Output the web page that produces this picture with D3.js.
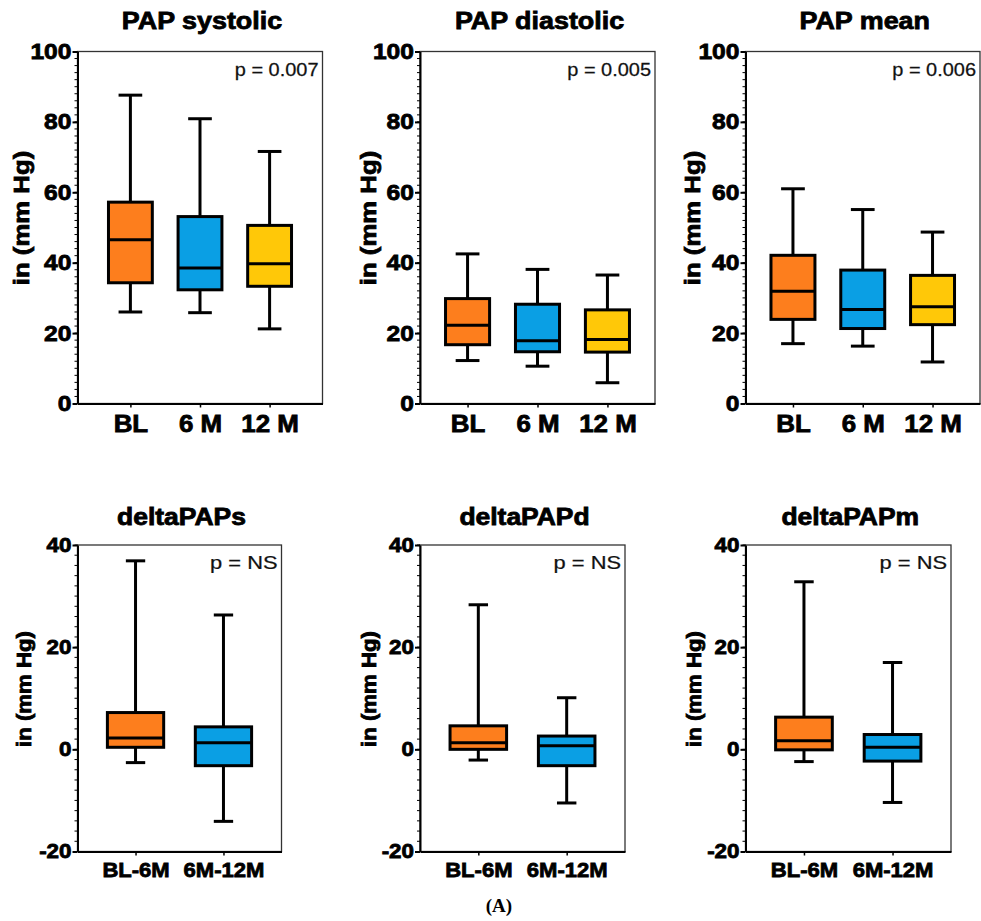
<!DOCTYPE html>
<html>
<head>
<meta charset="utf-8">
<script src="https://cdn.jsdelivr.net/npm/d3@7"></script>
<style>
  body { margin: 0; background: #fff; }
  svg text { font-family: "Liberation Sans", Arial, Helvetica, sans-serif; fill: #000; }
  svg text.heavy { stroke: #000; stroke-width: 0.8px; }
  svg text.light { stroke: #111; stroke-width: 0.25px; }
</style>
</head>
<body>
<div id="chart"></div>
<script>
var groupsTop = ["BL", "6 M", "12 M"];
var groupsDelta = ["BL-6M", "6M-12M"];
var fillsTop = ["#fd7e1d", "#0a9fe4", "#ffc808"];
var fillsDelta = ["#fd7e1d", "#0a9fe4"];

var titlesTop = ["PAP systolic", "PAP diastolic", "PAP mean"];
var titlesDelta = ["deltaPAPs", "deltaPAPd", "deltaPAPm"];
var pTop = ["p = 0.007", "p = 0.005", "p = 0.006"];
var pDelta = ["p = NS", "p = NS", "p = NS"];

var ticksTop = [0, 20, 40, 60, 80, 100];
var ticksDelta = [-20, 0, 20, 40];

// each box: [min, q1, median, q3, max]
var papSystolic = [[26.0, 34.3, 46.5, 57.2, 87.6], [25.8, 32.3, 38.5, 53.1, 80.9], [21.2, 33.3, 39.7, 50.6, 71.6]];
var papDiastolic = [[12.2, 16.7, 22.2, 29.8, 42.5], [10.6, 14.7, 17.8, 28.2, 38.1], [5.9, 14.6, 18.2, 26.6, 36.5]];
var papMean = [[17.0, 23.9, 31.9, 42.1, 61.0], [16.3, 21.3, 26.7, 37.9, 55.1], [11.8, 22.4, 27.5, 36.4, 48.7]];
var deltaPAPs = [[-2.6, 0.4, 2.2, 7.2, 36.9], [-14.1, -3.2, 1.3, 4.4, 26.3]];
var deltaPAPd = [[-2.1, 0.0, 1.3, 4.6, 28.3], [-10.5, -3.2, 0.7, 2.6, 10.1]];
var deltaPAPm = [[-2.4, -0.1, 1.7, 6.3, 32.8], [-10.4, -2.3, 0.4, 2.9, 17.0]];

(function () {

    var width = 981, height = 921;

    var svg = d3.select("#chart").append("svg")
        .attr("width", width)
        .attr("height", height);

    var rows = [
        {
            groups: groupsTop, fills: fillsTop, titles: titlesTop, ps: pTop,
            series: [papSystolic, papDiastolic, papMean],
            domain: [0, 100], ticks: ticksTop,
            top: 51.5, bottom: 403.5,
            lefts: [77.5, 420, 745.5], rights: [322.5, 655, 980],
            paddings: [0.76, 0.68, 0.68], boxFrac: 0.63, capFrac: 0.34,
            titleY: 28.5, titleSize: 24, titleStretch: 1.12,
            tickSize: 22, tickStretch: 1.12,
            labelSize: 23, labelStretch: 1.12, labelOffsets: [49, 44.5, 45.5], labelY: 218,
            catSize: 24, catStretch: 1.08, catPad: 7,
            pSize: 19, pStretch: 1.05, pY: 76
        },
        {
            groups: groupsDelta, fills: fillsDelta, titles: titlesDelta, ps: pDelta,
            series: [deltaPAPs, deltaPAPd, deltaPAPm],
            domain: [-20, 40], ticks: ticksDelta,
            top: 545, bottom: 851.5,
            lefts: [77.5, 420, 745.5], rights: [281.5, 625, 951],
            paddings: [0.66, 0.66, 0.66], boxFrac: 0.64, capFrac: 0.22,
            titleY: 525, titleSize: 23, titleStretch: 1.15,
            tickSize: 20, tickStretch: 1.12,
            labelSize: 20, labelStretch: 1.11, labelOffsets: [46.5, 44, 44.5], labelY: 689,
            catSize: 21, catStretch: 1.05, catPad: 6.6,
            pSize: 19, pStretch: 1.15, pY: 569
        }
    ];

    // text that is a bit wider than plain Arial, as in the picture
    var stretchText = function (sel, s) {
        sel.each(function () {
            var t = d3.select(this);
            var x = +t.attr("x") || 0, y = +t.attr("y") || 0;
            t.attr("x", 0).attr("y", 0)
                .attr("transform", "translate(" + x + "," + y + ") scale(" + s + ",1)");
        });
    };

    rows.forEach(function (row) {
        row.series.forEach(function (data, k) {
            var left = row.lefts[k], right = row.rights[k];

            var y = d3.scaleLinear().domain(row.domain).range([row.bottom, row.top]);
            var x = d3.scalePoint().domain(row.groups).range([left, right]).padding(row.paddings[k]);
            var step = x.step();
            var boxW = step * row.boxFrac, capW = step * row.capFrac;

            var g = svg.append("g");

            // frame (top and right edges)
            g.append("rect")
                .attr("x", left).attr("y", row.top)
                .attr("width", right - left).attr("height", row.bottom - row.top)
                .attr("fill", "none").attr("stroke", "#333").attr("stroke-width", 1.3);

            // minor ticks
            g.selectAll(".minor")
                .data(d3.range(row.domain[0], row.domain[1] + 0.01, 2))
                .enter().append("line")
                .attr("x1", left - 3).attr("x2", left)
                .attr("y1", d => y(d)).attr("y2", d => y(d))
                .attr("stroke", "#000").attr("stroke-width", 1);

            var yAxis = g.append("g")
                .attr("transform", "translate(" + left + ",0)")
                .call(d3.axisLeft(y).tickValues(row.ticks).tickFormat(d => String(d))
                    .tickSize(5).tickPadding(1).tickSizeOuter(0));
            yAxis.select(".domain").attr("stroke", "#000").attr("stroke-width", 2);
            yAxis.selectAll(".tick line").attr("stroke", "#000").attr("stroke-width", 2);
            yAxis.selectAll("text")
                .attr("class", "heavy")
                .attr("font-size", row.tickSize).attr("font-weight", "bold")
                .call(stretchText, row.tickStretch);

            var xAxis = g.append("g")
                .attr("transform", "translate(0," + row.bottom + ")")
                .call(d3.axisBottom(x).tickSize(4).tickPadding(row.catPad).tickSizeOuter(0));
            xAxis.select(".domain").attr("stroke", "#000").attr("stroke-width", 2);
            xAxis.selectAll(".tick line").attr("stroke", "#000").attr("stroke-width", 1.5);
            xAxis.selectAll("text")
                .attr("class", "heavy")
                .attr("font-size", row.catSize).attr("font-weight", "bold");
            xAxis.selectAll("text").each(function () {
                var t = d3.select(this);
                var yy = +t.attr("y");
                var dy = parseFloat(t.attr("dy")) * row.catSize;
                t.attr("dy", null).attr("y", yy + dy);
            });
            xAxis.selectAll("text").call(stretchText, row.catStretch);

            // boxes
            var boxes = g.selectAll(".box")
                .data(data)
                .enter().append("g")
                .attr("class", "box");

            boxes.append("line")
                .attr("x1", (d, i) => x(row.groups[i])).attr("x2", (d, i) => x(row.groups[i]))
                .attr("y1", d => y(d[0])).attr("y2", d => y(d[4]))
                .attr("stroke", "#000").attr("stroke-width", 3);

            [0, 4].forEach(function (j) {
                boxes.append("line")
                    .attr("x1", (d, i) => x(row.groups[i]) - capW / 2)
                    .attr("x2", (d, i) => x(row.groups[i]) + capW / 2)
                    .attr("y1", d => y(d[j])).attr("y2", d => y(d[j]))
                    .attr("stroke", "#000").attr("stroke-width", 3);
            });

            boxes.append("rect")
                .attr("x", (d, i) => x(row.groups[i]) - boxW / 2)
                .attr("width", boxW)
                .attr("y", d => y(d[3]))
                .attr("height", d => y(d[1]) - y(d[3]))
                .attr("fill", (d, i) => row.fills[i])
                .attr("stroke", "#000").attr("stroke-width", 3);

            boxes.append("line")
                .attr("x1", (d, i) => x(row.groups[i]) - boxW / 2)
                .attr("x2", (d, i) => x(row.groups[i]) + boxW / 2)
                .attr("y1", d => y(d[2])).attr("y2", d => y(d[2]))
                .attr("stroke", "#000").attr("stroke-width", 3);

            // title
            g.append("text")
                .attr("class", "heavy")
                .attr("x", (left + right) / 2 + 2).attr("y", row.titleY)
                .attr("text-anchor", "middle")
                .attr("font-size", row.titleSize).attr("font-weight", "bold")
                .text(row.titles[k])
                .call(stretchText, row.titleStretch);

            // y label
            g.append("text")
                .attr("class", "heavy")
                .attr("transform", "translate(" + (left - row.labelOffsets[k]) + "," + row.labelY + ") rotate(-90) scale(" + row.labelStretch + ",1)")
                .attr("text-anchor", "middle")
                .attr("font-size", row.labelSize).attr("font-weight", "bold")
                .text("in (mm Hg)");

            // p value
            g.append("text")
                .attr("class", "light")
                .attr("x", right - 4).attr("y", row.pY)
                .attr("text-anchor", "end")
                .attr("font-size", row.pSize)
                .style("fill", "#111")
                .text(row.ps[k])
                .call(stretchText, row.pStretch);
        });
    });

    svg.append("text")
        .attr("x", 499).attr("y", 912)
        .attr("text-anchor", "middle")
        .style("font-family", "'Liberation Serif', 'Times New Roman', serif")
        .attr("font-weight", "bold")
        .attr("font-size", 19)
        .text("(A)");

})();
</script>
</body>
</html>
